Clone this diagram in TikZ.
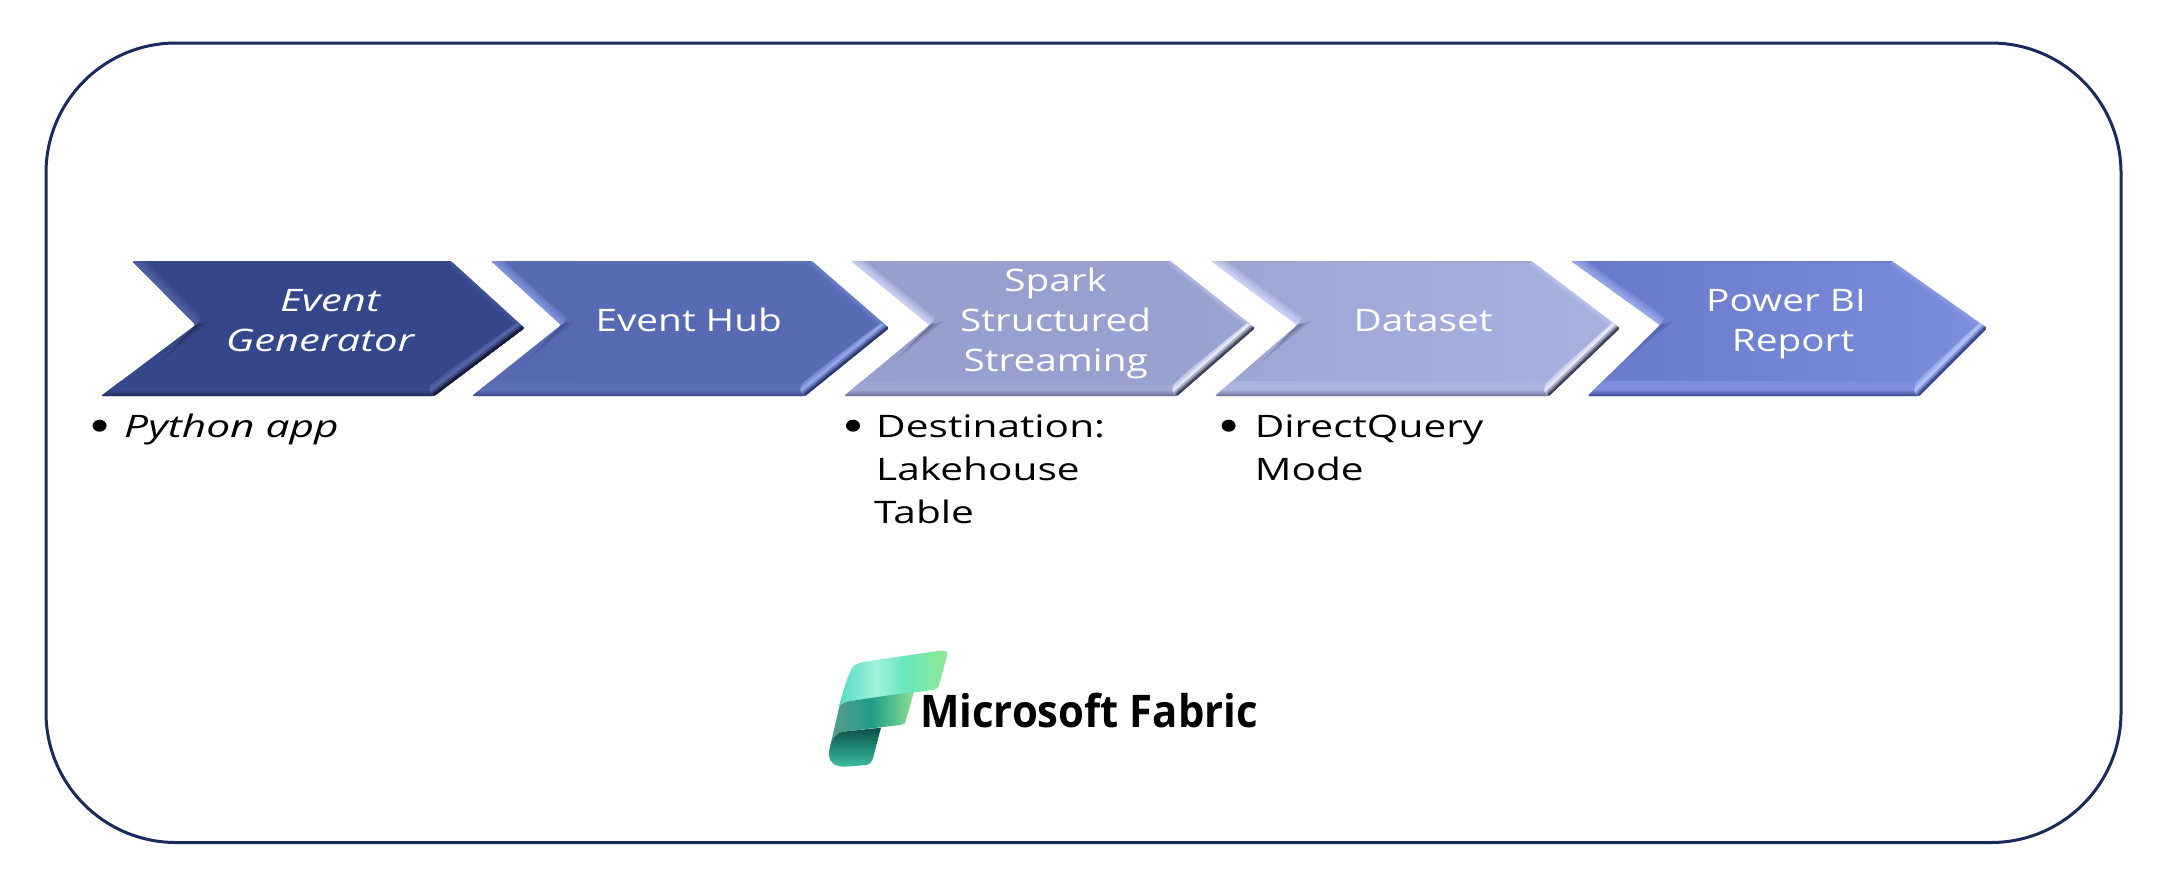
\documentclass[tikz,border=0pt]{standalone}
\usepackage{fontspec}
\newfontfamily\wide[FakeStretch=1.25,ItalicFeatures={FakeStretch=1.35}]{Open Sans}
\newfontfamily\widenote[FakeStretch=1.31,ItalicFeatures={FakeStretch=1.37}]{Open Sans}
\newfontfamily\logofont[FakeStretch=.93,BoldFeatures={FakeStretch=.93}]{Open Sans}
\usetikzlibrary{calc}
\newlength{\px}\setlength{\px}{0.03cm}
\definecolor{framecol}{HTML}{1B2A5C}
\definecolor{logoTa}{HTML}{55DCC4}\definecolor{logoTb}{HTML}{A2F2DC}\definecolor{logoTc}{HTML}{68E6BF}\definecolor{logoTd}{HTML}{93E890}
\definecolor{logoMa}{HTML}{5A9C92}\definecolor{logoMb}{HTML}{1F9D88}\definecolor{logoMc}{HTML}{8EE090}
\definecolor{logoBa}{HTML}{0A5048}\definecolor{logoBb}{HTML}{3BBF9F}
\pgfdeclarehorizontalshading{logotop}{100bp}{color(0bp)=(logoTa);color(25bp)=(logoTa);color(42bp)=(logoTb);color(55bp)=(logoTc);color(75bp)=(logoTd);color(100bp)=(logoTd)}
\pgfdeclarehorizontalshading{logomid}{100bp}{color(0bp)=(logoMa);color(25bp)=(logoMa);color(50bp)=(logoMb);color(75bp)=(logoMc);color(100bp)=(logoMc)}
\tikzset{
  x=\px,y=-\px,
  frame/.style={draw=framecol,line width=3\px,rounded corners=130\px},
  chevtext/.style={text=white,align=center,anchor=base,inner sep=0pt,font=\wide\fontsize{31\px}{40\px}\selectfont},
  notetext/.style={text=black,align=left,anchor=base west,inner sep=0pt,font=\widenote\fontsize{31\px}{43\px}\selectfont},
  bulletdot/.style={fill=black,draw=none},
}
% args: TL TR tip BR BL notch | baseL baseR facet light dark bottom
\newcommand{\chev}[9]{%
  \def\chTL{#1}\def\chTR{#2}\def\chTP{#3}\def\chBR{#4}\def\chBL{#5}\def\chNT{#6}%
  \definecolor{chL}{HTML}{#7}\definecolor{chR}{HTML}{#8}\definecolor{chFacet}{HTML}{#9}\chevb}
\newcommand{\chevb}[3]{%
  \definecolor{chLight}{HTML}{#1}\definecolor{chDark}{HTML}{#2}\definecolor{chBot}{HTML}{#3}%
  \shade[left color=chL,right color=chR,rounded corners=1.5\px]
    (\chTL,261)--(\chTR,261)--(\chTP,328)--(\chBR,396)--(\chBL,396)--(\chNT,325)--cycle;
  \begin{scope}
    \clip[rounded corners=1.5\px] (\chTL,261)--(\chTR,261)--(\chTP,328)--(\chBR,396)--(\chBL,396)--(\chNT,325)--cycle;
    % top edge
    \draw[chBot!50!chLight,line width=3\px,opacity=.6] (\chTL,261)--(\chTR,261);
    % upper-right edge
    \foreach \w in {9,6,3}
      \draw[chLight,line width=\w\px,opacity=.13] (\chTR,261)--(\chTP,328);
    % upper-left bevel, soft falloff
    \foreach \w in {18,14,10,7,4}
      \draw[chLight,line width=\w\px,opacity=.22] (\chTL,261)--(\chNT,325);
    % shadow under the notch
    \fill[chDark,opacity=.22] (\chNT,325)--(\chNT+14,321)--(\chNT-36,362)--cycle;
    \fill[chDark,opacity=.3] (\chNT,325)--(\chNT+7,323)--(\chNT-20,346)--cycle;
    % bottom strip
    \shade[top color=chR,bottom color=chBot,middle color=chLight!10!chR] (\chBL-5,381.5) rectangle (\chBR,397);
    % lower-right facet
    \begin{scope}
      \clip ($(\chTP,328)+(-8,-5)$)--(\chBR-4.5,383)--(\chBR-4.5,394)--(\chBR,396)--(\chTP,328)--cycle;
      \fill[chR!75!chDark] (\chBR-10,320) rectangle (\chTP+2,398);
      \draw[chFacet!40!chR,line width=24\px] (\chTP,328)--(\chBR,396);
      \draw[chFacet!70!chR,line width=20\px] (\chTP,328)--(\chBR,396);
      \draw[chFacet,line width=16\px] (\chTP,328)--(\chBR,396);
      \draw[chFacet!65!chDark,line width=11\px] (\chTP,328)--(\chBR,396);
      \draw[chFacet!30!chDark,line width=7\px] (\chTP,328)--(\chBR,396);
      \draw[chDark,line width=4\px] (\chTP,328)--(\chBR,396);
    \end{scope}
  \end{scope}}
\begin{document}
\begin{tikzpicture}
\useasboundingbox (0,0) rectangle (2162,889);
\draw[frame] (46,43) rectangle (2121,842.5);

\chev{132}{451}{524.5}{434}{101}{195.5}{36468A}{36468A}{5565AA}{5B6BAE}{141A38}{1E2858}
\chev{491}{812}{889}{805}{472}{561}{5769B3}{5A6BB6}{93A6EC}{8FA3EE}{2C3870}{38447C}
\chev{851}{1170.5}{1255}{1177}{844}{929.5}{969ECD}{9AA2D1}{E4E9FC}{DCE1FF}{3E4158}{62678A}
\chev{1211}{1531.6}{1620}{1549}{1215}{1297}{9CA5D4}{A9B1E0}{E4E9FC}{DCE1FF}{3E4158}{62678A}
\chev{1571}{1892}{1987}{1919}{1587.5}{1660}{6879C9}{7C8DDD}{B0C0F8}{A8B8F5}{3A4890}{2F3C80}

\node[chevtext] (gen) at (320,351.7) {\itshape\hspace*{20\px}Event\\\itshape Generator};
\node[chevtext] (hub) at (688.7,331.7) {Event Hub};
\node[chevtext] (spark) at (1055.7,371) {Spark\\Structured\\Streaming};
\node[chevtext] (data) at (1423,331) {Dataset};
\node[chevtext] (pbi) at (1788,351.7) {Power BI\hspace*{4\px}\\\hspace*{10\px}Report};

\fill[bulletdot] (99.6,425.7) ellipse [x radius=7,y radius=6];
\node[notetext] (py) at (124,437) {\itshape Python app};
\fill[bulletdot] (853,425.7) ellipse [x radius=7,y radius=6];
\node[notetext] (dest) at (876,523) {Destination:\\Lakehouse\\\hspace*{-2\px}Table};
\fill[bulletdot] (1228.6,425.7) ellipse [x radius=7,y radius=6];
\node[notetext] (dq) at (1254.6,480) {DirectQuery\\Mode};

% logo
\shade[shading=logotop]
  (839.3,706.7) .. controls (840,700) and (848,675) .. (850,673)
  .. controls (852,665) and (856,664) .. (863,662)
  -- (941,650.5) .. controls (946,650) and (948,652) .. (947,656)
  -- (939,685) .. controls (938,689) and (936,689) .. (932,690)
  -- (850,701) .. controls (845,702) and (841,704) .. (839.3,706.7) -- cycle;
\shade[shading=logomid]
  (839.3,706.7) .. controls (841,704) and (845,702) .. (850,701)
  -- (914,691.7) -- (906,720) .. controls (905,724) and (904,724) .. (900,725)
  -- (843,731.7) .. controls (836,733) and (831,740) .. (830,746.7)
  -- cycle;
\shade[top color=logoBa,bottom color=logoBb]
  (830,746.7) .. controls (831,740) and (836,733) .. (843,731.7)
  -- (881,727.7) -- (873,758) .. controls (871,763) and (870,764) .. (866,765)
  -- (845,766.7) .. controls (835,767) and (829,762) .. (829,755) -- cycle;

\node[anchor=base,inner sep=0pt,text=black,font=\logofont\bfseries\fontsize{45\px}{45\px}\selectfont] (fabric) at (1089,727) {Microsoft Fabric};
\end{tikzpicture}
\end{document}
